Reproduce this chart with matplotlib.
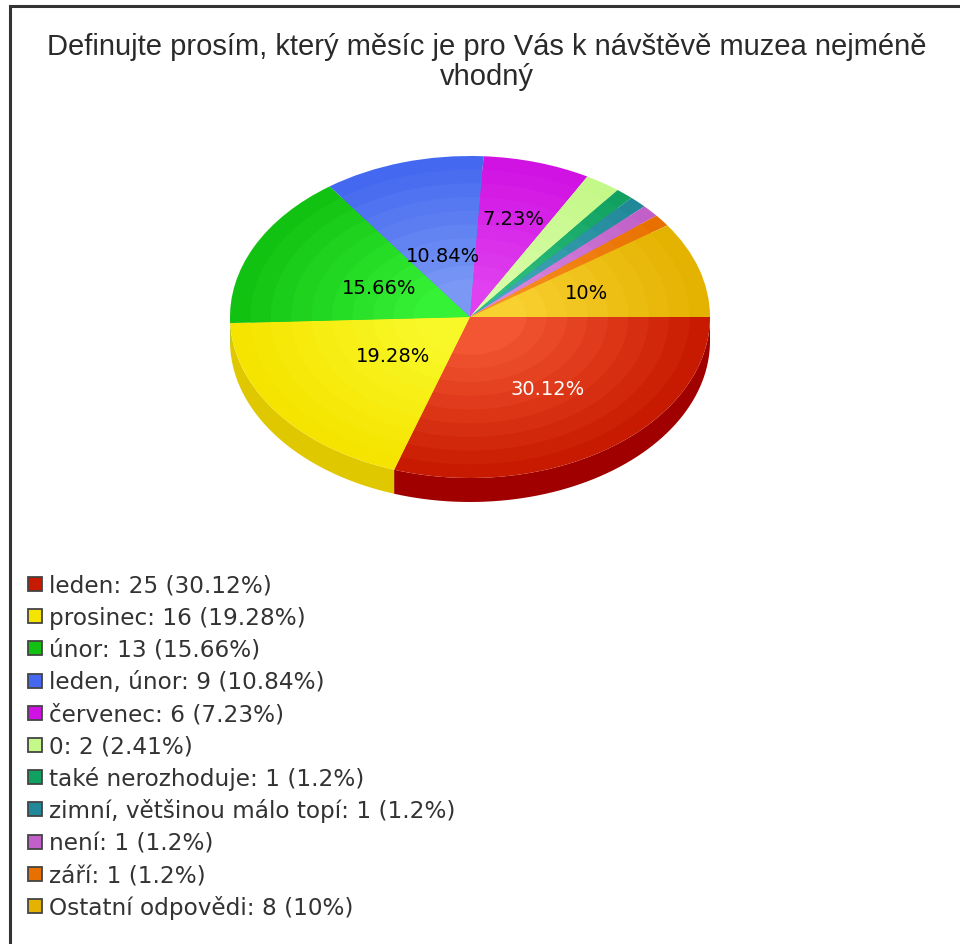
import numpy as np
import matplotlib
matplotlib.use("Agg")
import matplotlib.pyplot as plt
from matplotlib.patches import Rectangle, Polygon
from matplotlib.transforms import Affine2D
import matplotlib.colors as mcolors

title = "Definujte prosím, který měsíc je pro Vás k návštěvě muzea nejméně\nvhodný"
categories = ["leden", "prosinec", "únor", "leden, únor", "červenec", "0",
              "také nerozhoduje", "zimní, většinou málo topí", "není", "září",
              "Ostatní odpovědi"]
counts = [25, 16, 13, 9, 6, 2, 1, 1, 1, 1, 8]
percent_labels = ["30.12%", "19.28%", "15.66%", "10.84%", "7.23%", "2.41%",
                  "1.2%", "1.2%", "1.2%", "1.2%", "10%"]
show_on_pie = [True, True, True, True, True, False, False, False, False, False, True]

colors = ["#c81a00", "#f5e400", "#12c212", "#4468f0", "#d012e2", "#c4f888",
          "#10a060", "#208898", "#c060c8", "#e87000", "#e4b200"]
inner_colors = ["#f25632", "#f8f828", "#36f236", "#7a98f4", "#e040f0", "#d8fca8",
                "#30c080", "#40a8b8", "#d888e0", "#f89020", "#f8d030"]
side_colors = ["#a00000", "#e0c800", "#0c9c0c", "#3050c0", "#a010b0", "#a0d060",
               "#088050", "#186870", "#a048a8", "#c05800", "#c89800"]
label_colors = ["white", "black", "black", "black", "black", "black",
                "black", "black", "black", "black", "black"]
label_dist = [0.55, 0.40, 0.42, 0.40, 0.64, 0.5, 0.5, 0.5, 0.5, 0.5, 0.51]

W, H = 960, 945
fig = plt.figure(figsize=(W / 100, H / 100), dpi=100)
ax = fig.add_axes([0, 0, 1, 1])
ax.set_xlim(0, W)
ax.set_ylim(H, 0)
ax.axis("off")

title_font = ["Liberation Sans", "DejaVu Sans"]
font = ["DejaVu Sans"]

# border
ax.plot([10, 10, W + 5], [H + 5, 6.5, 6.5], color="#333333", lw=2.2,
        solid_joinstyle="miter", clip_on=False)

# title
ax.text(487, 62, title, ha="center", va="center", fontsize=21,
        family=title_font, color="#2a2a2a", linespacing=1.05)

cx, cy, rx, ry, depth = 470, 318, 240, 161, 24
pie_tr = Affine2D().scale(rx, ry).translate(cx, cy) + ax.transData

# side walls (visible lower half)
fracs = np.array(counts, dtype=float) / np.sum(counts)
bounds = np.concatenate([[0], np.cumsum(fracs)]) * 360.0
for i in range(len(counts)):
    t1, t2 = bounds[i], bounds[i + 1]
    a1, a2 = max(t1, 0), min(t2, 180)
    if a2 <= a1:
        continue
    th = np.radians(np.linspace(a1, a2, 60))
    xs = cx + rx * np.cos(th)
    ys = cy + ry * np.sin(th)
    pts = np.column_stack([np.concatenate([xs, xs[::-1]]),
                           np.concatenate([ys, ys[::-1] + depth])])
    ax.add_patch(Polygon(pts, closed=True, facecolor=side_colors[i],
                         edgecolor="none", zorder=1))

# top surface with radial gradient rings
n_rings = 10
for k in range(n_rings):
    r = 1.0 - k * 0.085
    t = k / (n_rings - 1)
    ring_cols = [mcolors.to_hex((1 - t) * np.array(mcolors.to_rgb(c)) +
                                t * np.array(mcolors.to_rgb(ci)))
                 for c, ci in zip(colors, inner_colors)]
    wedges, _ = ax.pie(counts, colors=ring_cols, startangle=0, counterclock=True,
                       radius=r, center=(0, 0), frame=True,
                       wedgeprops=dict(linewidth=0, edgecolor="none"))
    for w in wedges:
        w.set_transform(pie_tr)
        w.set_zorder(2 + k)

ax.set_xlim(0, W)
ax.set_ylim(H, 0)
ax.set_aspect("auto")
ax.axis("off")

# labels on pie
for i in range(len(counts)):
    if not show_on_pie[i]:
        continue
    mid = np.radians((bounds[i] + bounds[i + 1]) / 2)
    x = cx + label_dist[i] * rx * np.cos(mid)
    y = cy + label_dist[i] * ry * np.sin(mid)
    ax.text(x, y, percent_labels[i], ha="center", va="center", fontsize=14,
            family=font, color=label_colors[i], zorder=30)

# legend
y0, dy = 585, 32.2
for i, (cat, n, p) in enumerate(zip(categories, counts, percent_labels)):
    y = y0 + i * dy
    ax.add_patch(Rectangle((28, y - 7), 14, 14, facecolor=colors[i],
                           edgecolor="#444444", lw=1.3, zorder=30))
    ax.text(49, y + 1, f"{cat}: {n} ({p})", ha="left", va="center",
            fontsize=16.7, family=font, color="#333333", zorder=30)

fig.savefig("out.png", dpi=100, facecolor="white")
